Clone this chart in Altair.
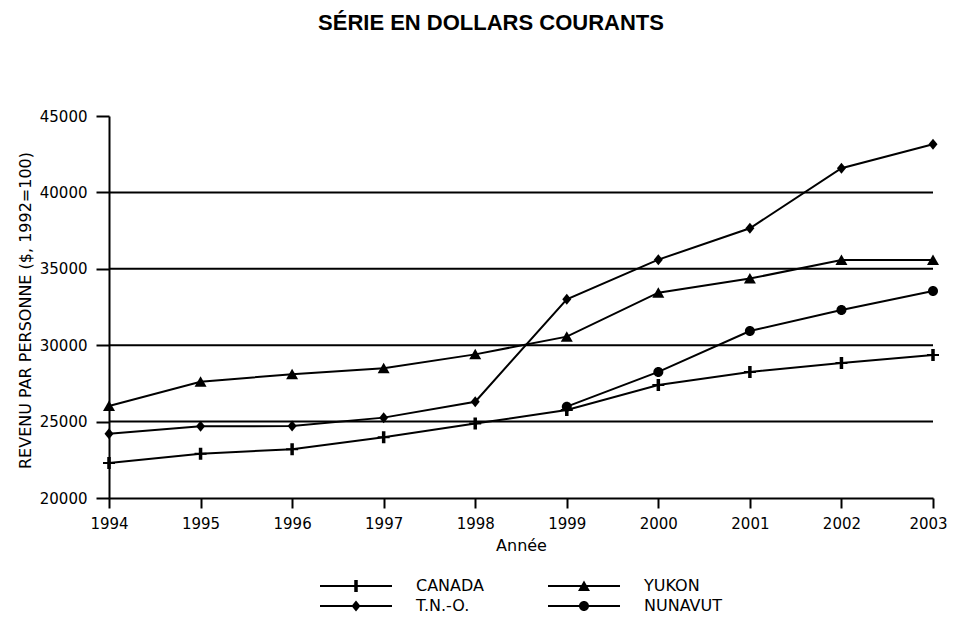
import altair as alt
import pandas as pd

years = [1994, 1995, 1996, 1997, 1998, 1999, 2000, 2001, 2002, 2003]
canada = [22290, 22900, 23190, 23970, 24870, 25760, 27400, 28250, 28840, 29360]
yukon = [26020, 27610, 28100, 28490, 29400, 30560, 33440, 34360, 35580, 35580]
tno = [24210, 24690, 24710, 25260, 26300, 33000, 35600, 37650, 41580, 43150]
nunavut = [None, None, None, None, None, 25980, 28250, 30930, 32300, 33550]
series_names = ["CANADA", "YUKON", "T.N.-O.", "NUNAVUT"]
y_ticks = [20000, 25000, 30000, 35000, 40000, 45000]
grid_values = [25000, 30000, 35000, 40000]

rows = []
for name, vals in zip(series_names, [canada, yukon, tno, nunavut]):
    for yr, v in zip(years, vals):
        if v is not None:
            rows.append({"year": yr, "value": v, "series": name})
df = pd.DataFrame(rows)
grid_df = pd.DataFrame({"value": grid_values})

# marker shapes (unit coordinates, filled)
marker_paths = [
    "M-0.35,-1.2H0.35V1.2H-0.35ZM-1.2,-0.2H1.2V0.2H-1.2Z",   # plus
    "M0,-1.1L1.2,1L-1.2,1Z",                                 # triangle
    "M0,-1.1L0.9,0L0,1.1L-0.9,0Z",                           # diamond
    "M-1,0A1,1,0,1,1,1,0A1,1,0,1,1,-1,0Z",                   # circle
]
legend_paths = ["M-7.2,-0.2H7.2V0.2H-7.2Z" + p for p in marker_paths]

FONT = "DejaVu Sans"

x_enc = alt.X(
    "year:Q",
    scale=alt.Scale(domain=[1994, 2003], nice=False, zero=False),
    axis=alt.Axis(
        values=years, format="d", title="Année", grid=False,
        domainColor="black", domainWidth=2, tickColor="black", tickWidth=2,
        tickSize=10, labelPadding=8, labelFont=FONT, labelFontSize=15,
        labelColor="black", labelFlush=False, labelOverlap=False,
        labelOffset=alt.condition("datum.value == 2003", alt.value(-5), alt.value(0)),
        titleFont=FONT, titleFontSize=16, titleFontWeight="normal",
        titleColor="black", titlePadding=6,
    ),
)
y_enc = alt.Y(
    "value:Q",
    scale=alt.Scale(domain=[20000, 45000], nice=False, zero=False),
    axis=alt.Axis(
        values=y_ticks, format="d", title="REVENU PAR PERSONNE ($, 1992=100)",
        grid=False, domainColor="black", domainWidth=2, tickColor="black",
        tickWidth=2, tickSize=13, labelPadding=9, labelFont=FONT,
        labelFontSize=15, labelColor="black", labelFlush=False,
        titleFont=FONT, titleFontSize=16, titleFontWeight="normal",
        titleColor="black", titleX=-79, titleY=194, titleBaseline="alphabetic",
        titleAngle=270,
    ),
)

grid = alt.Chart(grid_df).mark_rule(color="black", strokeWidth=2).encode(y=y_enc)

lines = alt.Chart(df).mark_line(color="black", strokeWidth=2).encode(
    x=x_enc, y=y_enc, detail="series:N"
)

points = alt.Chart(df).mark_point(
    filled=True, color="black", size=100, opacity=1
).encode(
    x=x_enc, y=y_enc,
    shape=alt.Shape("series:N", scale=alt.Scale(domain=series_names, range=marker_paths), legend=None),
)

legend_layer = alt.Chart(df).transform_filter("false").mark_point(
    filled=True, color="black", size=100, opacity=1
).encode(
    x=x_enc, y=y_enc,
    shape=alt.Shape(
        "series:N",
        scale=alt.Scale(domain=series_names, range=legend_paths),
        legend=alt.Legend(
            title=None, orient="none", legendX=209, legendY=462, columns=2,
            direction="horizontal", symbolSize=100, symbolStrokeWidth=0,
            symbolOffset=30, labelOffset=52, labelFont=FONT, labelFontSize=16,
            labelColor="black", columnPadding=61, rowPadding=4, padding=0,
            symbolFillColor="black", symbolOpacity=1, labelLimit=200,
        ),
    ),
)

chart = alt.layer(grid, lines, points, legend_layer).resolve_scale(
    shape="independent"
).properties(
    width=824,
    height=382,
    autosize=alt.AutoSizeParams(type="none"),
    padding={"left": 101, "top": 108, "right": 15, "bottom": 117},
    view=alt.ViewBackground(stroke="transparent", strokeWidth=0, strokeOpacity=0),
    title=alt.TitleParams(
        "SÉRIE EN DOLLARS COURANTS", font="Liberation Sans", fontSize=22,
        fontWeight="bold", color="black", anchor="middle", offset=74, dx=-30,
    ),
).configure_view(
    stroke="transparent", strokeWidth=0
).configure_axis(
    grid=False, gridColor="transparent", gridOpacity=0
).configure_axisY(
    grid=False, gridOpacity=0
).configure(
    background="white", style={"cell": {"stroke": "transparent", "strokeWidth": 0}}
)

chart.save("out.html", embed_options={"renderer": "svg", "actions": False})
